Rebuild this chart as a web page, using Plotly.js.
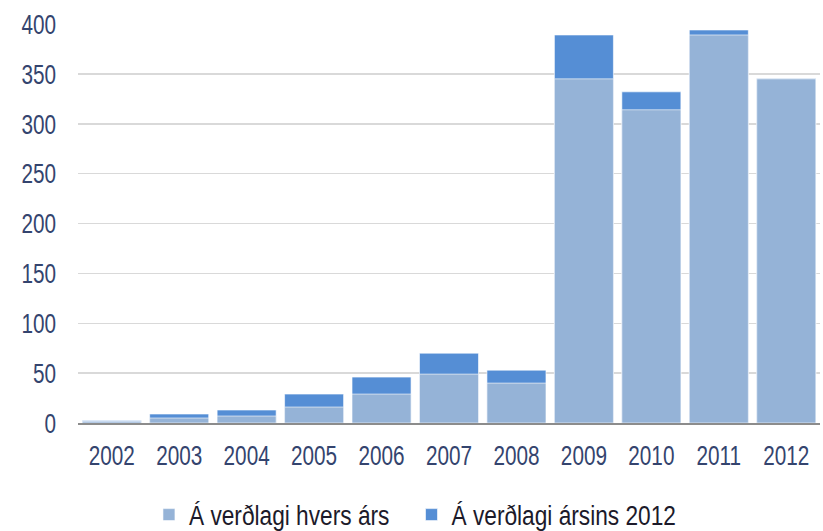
<!DOCTYPE html>
<html>
<head>
<meta charset="utf-8">
<script src="https://cdn.plot.ly/plotly-3.0.1.min.js"></script>
<style>html,body{margin:0;padding:0;background:#fff;}#chart{width:823px;height:531px;}</style>
</head>
<body>
<div id="chart"></div>
<script>
const years = ['2002','2003','2004','2005','2006','2007','2008','2009','2010','2011','2012'];
const nominal = [1.5, 5, 7, 16, 29, 49, 40, 345, 314, 389, 345];
const real2012 = [2.5, 9, 13, 29, 46, 70, 53, 389, 332, 394, 345];
const nameNominal = 'Á verðlagi hvers árs';
const nameReal = 'Á verðlagi ársins 2012';
const yTicks = [0, 50, 100, 150, 200, 250, 300, 350, 400];

const fam = '"Liberation Sans", Arial, sans-serif';
const tickFont = {family: fam, size: 28, color: '#34446E'};
const legFont = {family: fam, size: 27, color: '#1C1A2A'};

const data = [
  {type: 'bar', x: years, y: real2012, name: nameReal, legend: 'legend2',
   marker: {color: '#558ED5', line: {color: 'rgba(255,255,255,0.6)', width: 1}}},
  {type: 'bar', x: years, y: nominal, name: nameNominal, legend: 'legend',
   marker: {color: '#95B3D7', line: {color: 'rgba(255,255,255,0.6)', width: 1}}}
];

const legBase = {orientation: 'h', xref: 'container', yref: 'container', xanchor: 'left',
                 yanchor: 'middle', y: 0.03, font: legFont, bgcolor: 'rgba(0,0,0,0)'};

const layout = {
  width: 823, height: 531,
  margin: {l: 78, r: 3, t: 24, b: 108, autoexpand: false},
  paper_bgcolor: '#fff', plot_bgcolor: '#fff',
  font: tickFont,
  barmode: 'overlay', bargap: 0.125,
  showlegend: true,
  legend: Object.assign({}, legBase, {x: 0.181}),
  legend2: Object.assign({}, legBase, {x: 0.5}),
  xaxis: {type: 'category', showgrid: false, showline: true, linecolor: '#8C8C8C', linewidth: 2,
          ticks: '', ticklabelstandoff: 6, tickfont: tickFont},
  yaxis: {range: [0, 400], tickvals: yTicks, showgrid: true, gridcolor: '#D9D9D9', gridwidth: 1.5,
          zeroline: false, showline: false, ticks: '', ticklabelstandoff: 21, tickfont: tickFont}
};

// narrow the text like the reference's condensed typeface
function squeeze(gd) {
  const sets = [['.xtick text, .ytick text', 0.74], ['text.legendtext, text.legend2text', 0.84]];
  sets.forEach(([sel, k]) => {
    gd.querySelectorAll(sel).forEach(t => {
      t.removeAttribute('textLength');
      t.removeAttribute('lengthAdjust');
      const w = t.getComputedTextLength();
      if (w > 0) {
        t.setAttribute('textLength', (w * k).toFixed(2));
        t.setAttribute('lengthAdjust', 'spacingAndGlyphs');
      }
    });
  });
}

const gd = document.getElementById('chart');
Plotly.newPlot(gd, data, layout, {displayModeBar: false, staticPlot: true}).then(() => {
  squeeze(gd);
  gd.on('plotly_afterplot', () => squeeze(gd));
});
</script>
</body>
</html>
